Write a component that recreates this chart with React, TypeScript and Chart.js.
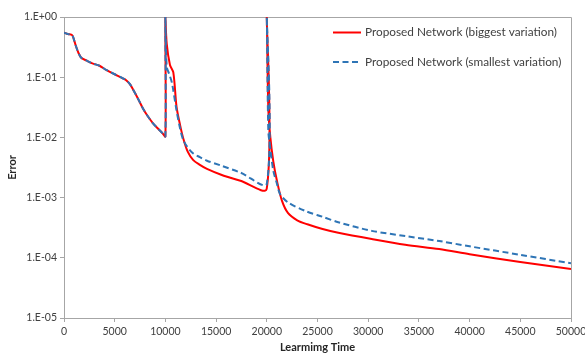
import React, { useEffect, useRef } from "react";
import { Chart, registerables } from "chart.js";

Chart.register(...registerables);

const seriesNames = [
  "Proposed Network (biggest variation)",
  "Proposed Network (smallest variation)",
];

const redX = [
  0, 400, 800, 1000, 1200, 1400, 1700, 2200, 2800, 3500, 4200, 5000, 5800, 6100,
  6500, 6800, 7300, 7800, 8300, 8800, 9300, 9700, 10000, 10000, 10130, 10450,
  10780, 11100, 11450, 11770, 12200, 12750, 13400, 14100, 15500, 17400, 19990,
  20000, 20150, 20350, 20640, 21000, 21500, 22100, 23000, 24000, 25500, 27050,
  30350, 33650, 37000, 40000, 45000, 50000,
];
const redY = [
  0.55, 0.52, 0.5, 0.41, 0.32, 0.26, 0.21, 0.19, 0.17, 0.155, 0.131, 0.112,
  0.096, 0.09, 0.077, 0.063, 0.044, 0.03, 0.022, 0.017, 0.0138, 0.0118, 0.0104,
  1, 0.36, 0.16, 0.12, 0.032, 0.016, 0.0095, 0.0058, 0.0042, 0.0035, 0.003,
  0.0024, 0.0019, 0.0014, 1, 0.03, 0.01, 0.004, 0.0019, 0.00088, 0.00055,
  0.00042, 0.00036, 0.0003, 0.00026, 0.000205, 0.000165, 0.00014, 0.000115,
  0.000085, 0.000065,
];

const blueX = [
  0, 400, 800, 1000, 1200, 1400, 1700, 2200, 2800, 3500, 4200, 5000, 5800, 6100,
  6500, 6800, 7300, 7800, 8300, 8800, 9300, 9700, 10000, 10000, 10130, 10400,
  10650, 11100, 11450, 11770, 12200, 12750, 13400, 14100, 15500, 17400, 20000,
  20000, 20150, 20350, 20640, 21000, 21300, 22100, 23800, 25500, 27050, 30350,
  33650, 37000, 40000, 45000, 50000,
];
const blueY = [
  0.55, 0.52, 0.5, 0.41, 0.32, 0.26, 0.21, 0.19, 0.17, 0.155, 0.131, 0.112,
  0.096, 0.09, 0.077, 0.063, 0.044, 0.03, 0.022, 0.017, 0.0138, 0.0118, 0.0104,
  1, 0.15, 0.11, 0.08, 0.028, 0.014, 0.009, 0.0068, 0.0054, 0.0047, 0.0041,
  0.0034, 0.0026, 0.0017, 1, 0.013, 0.0065, 0.0028, 0.0017, 0.00115, 0.00083,
  0.0006, 0.00048, 0.00039, 0.00028, 0.00023, 0.00019, 0.000155, 0.000112,
  0.000081,
];

const yTickValues = [1e-5, 1e-4, 1e-3, 1e-2, 1e-1, 1];
const yTickLabels = ["1.E-05", "1.E-04", "1.E-03", "1.E-02", "1.E-01", "1.E+00"];

const xTitle = "Learmimg Time";
const yTitle = "Error";

const RED = "#ff0000";
const BLUE = "#2e75b6";
const AXIS = "#a6a6a6";
const TEXT = "#404040";
const FONT = "Lato";
const BLUE_DASH = [6, 3.5];

const legendPlugin = {
  id: "insideLegend",
  afterDraw(chart: any) {
    const ctx = chart.ctx as CanvasRenderingContext2D;
    const items = [
      { y: 32.5, color: RED, dash: [] as number[], text: seriesNames[0] },
      { y: 62, color: BLUE, dash: BLUE_DASH, text: seriesNames[1] },
    ];
    ctx.save();
    items.forEach((it) => {
      ctx.beginPath();
      ctx.strokeStyle = it.color;
      ctx.lineWidth = 2;
      ctx.setLineDash(it.dash);
      ctx.moveTo(333, it.y);
      ctx.lineTo(361, it.y);
      ctx.stroke();
      ctx.setLineDash([]);
      ctx.fillStyle = TEXT;
      ctx.font = `11.8px ${FONT}`;
      ctx.textBaseline = "middle";
      ctx.textAlign = "left";
      ctx.fillText(it.text, 365, it.y);
    });
    ctx.restore();
  },
};

const borderPlugin = {
  id: "plotBorder",
  beforeDatasetsDraw(chart: any) {
    const { ctx, chartArea } = chart;
    ctx.save();
    ctx.strokeStyle = AXIS;
    ctx.lineWidth = 1;
    ctx.beginPath();
    const l = Math.round(chartArea.left) + 0.5;
    const r = Math.round(chartArea.right) + 0.5;
    const t = Math.round(chartArea.top) + 0.5;
    const b = Math.round(chartArea.bottom) + 0.5;
    ctx.moveTo(l, t);
    ctx.lineTo(r, t);
    ctx.lineTo(r, b);
    ctx.stroke();
    ctx.restore();
  },
};

export default function App() {
  const ref = useRef<HTMLCanvasElement | null>(null);

  useEffect(() => {
    document.body.style.margin = "0";
    if (!ref.current) return;
    const chart = new Chart(ref.current, {
      type: "line",
      data: {
        datasets: [
          {
            label: seriesNames[1],
            data: blueX.map((x, i) => ({ x, y: blueY[i] })),
            borderColor: BLUE,
            borderWidth: 2,
            borderDash: BLUE_DASH,
            pointRadius: 0,
            tension: 0.3,
            fill: false,
          },
          {
            label: seriesNames[0],
            data: redX.map((x, i) => ({ x, y: redY[i] })),
            borderColor: RED,
            borderWidth: 2,
            pointRadius: 0,
            tension: 0.3,
            fill: false,
          },
        ],
      },
      options: {
        animation: false,
        responsive: true,
        maintainAspectRatio: false,
        layout: { padding: { left: 0, right: 14, top: 17, bottom: 0 } },
        plugins: {
          legend: { display: false },
          tooltip: { enabled: false },
        },
        scales: {
          x: {
            type: "linear",
            min: 0,
            max: 50000,
            ticks: {
              stepSize: 5000,
              autoSkip: false,
              maxRotation: 0,
              padding: 3,
              color: TEXT,
              font: { family: FONT, size: 10.5 },
              callback: (v: any) => String(v),
            },
            grid: {
              drawOnChartArea: false,
              drawTicks: true,
              tickLength: 4,
              color: AXIS,
            },
            border: { display: true, color: AXIS },
            title: {
              display: true,
              text: xTitle,
              color: "#262626",
              font: { family: FONT, size: 11, weight: "bold" },
              padding: { top: 2, bottom: 0 },
            },
            afterFit: (s: any) => {
              s.height = 36;
              s.paddingLeft = 0;
              s.paddingRight = 0;
            },
          },
          y: {
            type: "logarithmic",
            min: 1e-5,
            max: 1,
            afterBuildTicks: (s: any) => {
              s.ticks = yTickValues.map((v) => ({ value: v }));
            },
            ticks: {
              padding: 3,
              color: TEXT,
              font: { family: FONT, size: 10.5 },
              callback: (v: any) => {
                const i = yTickValues.findIndex(
                  (t) => Math.abs(Math.log10(t) - Math.log10(Number(v))) < 1e-6
                );
                return i >= 0 ? yTickLabels[i] : "";
              },
            },
            grid: {
              drawOnChartArea: false,
              drawTicks: true,
              tickLength: 4,
              color: AXIS,
            },
            border: { display: true, color: AXIS },
            title: {
              display: true,
              text: yTitle,
              color: "#262626",
              font: { family: FONT, size: 11, weight: "bold" },
              padding: { top: 6, bottom: 0 },
            },
            afterFit: (s: any) => {
              s.width = 64;
              s.paddingTop = 0;
              s.paddingBottom = 0;
            },
          },
        },
      },
      plugins: [borderPlugin, legendPlugin],
    });
    return () => chart.destroy();
  }, []);

  return (
    <div style={{ position: "relative", width: 585, height: 354 }}>
      <canvas ref={ref} />
    </div>
  );
}
